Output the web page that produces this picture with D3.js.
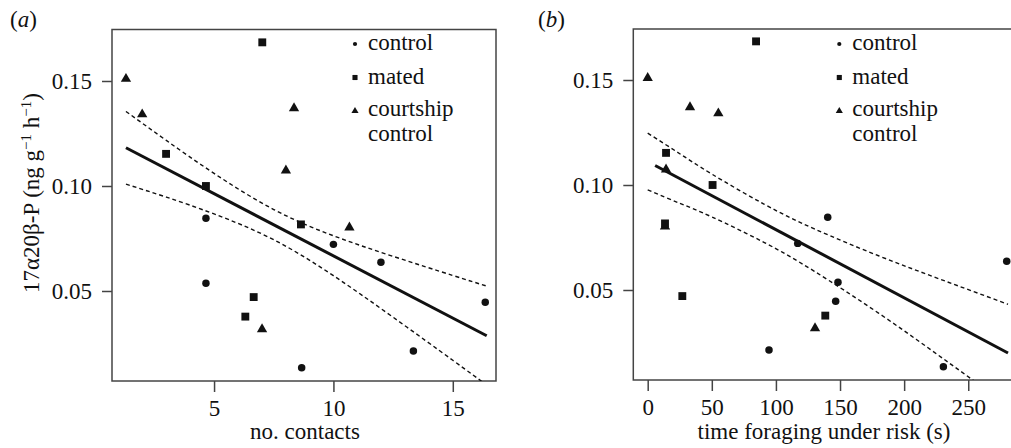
<!DOCTYPE html>
<html lang="en">
<head>
  <meta charset="UTF-8">
  <title>17a20b-P vs behaviour</title>
  <style>
    body { margin: 0; background: #fff; }
    svg text { font-family: "Liberation Serif", "Times New Roman", serif; fill: #111; }
  </style>
</head>
<body>
  <script src="https://d3js.org/d3.v7.min.js"></script>
  <script>
    // Hormone values (ng g-1 h-1) per group
    let groups = ["control", "mated", "courtship control"];

    let controlHormone = [0.0846, 0.0722, 0.0637, 0.0537, 0.0446, 0.0214, 0.0135];
    let controlContacts = [4.66, 10.0, 11.99, 4.66, 16.36, 13.35, 8.67];
    let controlTime = [140.4, 117, 280, 148.4, 146.6, 94.6, 230.6];

    let matedHormone = [0.1684, 0.1153, 0.1000, 0.0817, 0.0471, 0.0378];
    let matedContacts = [7.02, 2.99, 4.66, 8.64, 6.66, 6.31];
    let matedTime = [84.5, 14.3, 50.6, 13.5, 27, 138.5];

    let courtHormone = [0.1510, 0.1341, 0.1370, 0.1074, 0.0802, 0.0318];
    let courtContacts = [1.31, 1.99, 8.35, 8.01, 10.67, 7.01];
    let courtTime = [0, 55.1, 33, 14.3, 13.5, 130.5];

    // Regression line and 95% band
    let fitContactsX = [1.31, 16.42];
    let fitContactsY = [0.1182, 0.0287];
    let bandContactsX = [1.31, 3, 5, 7.5, 10, 12.5, 15, 16.4];
    let bandContactsUpper = [0.1355, 0.1217, 0.1060, 0.0888, 0.0763, 0.0665, 0.0574, 0.0524];
    let bandContactsLower = [0.1009, 0.0947, 0.0867, 0.0744, 0.0573, 0.0375, 0.0170, 0.0054];

    // Regression line and 95% band
    let fitTimeX = [5.8, 281];
    let fitTimeY = [0.1093, 0.0200];
    let bandTimeX = [0, 25, 50, 91, 130, 180, 230, 281];
    let bandTimeUpper = [0.1247, 0.1149, 0.1052, 0.0908, 0.0791, 0.0663, 0.0547, 0.0432];
    let bandTimeLower = [0.0977, 0.0913, 0.0848, 0.0726, 0.0589, 0.0390, 0.0175, -0.0050];

    let yTicks = [0.05, 0.10, 0.15];
    let contactTicks = [5, 10, 15];
    let timeTicks = [0, 50, 100, 150, 200, 250];

    let svg = d3.select("body")
      .append("svg")
      .attr("width", 1011)
      .attr("height", 448);

    let fontSize = 23;
    let ink = "#111";
    let frameColor = "#444";

    // marker shapes for each group (plot size, legend size)
    let shapes = [
      { type: d3.symbolCircle, size: 44, legendSize: 14 },
      { type: d3.symbolSquare, size: 62, legendSize: 26 },
      { type: d3.symbolTriangle, size: 46, legendSize: 22 }
    ];

    function drawPanel(p) {
      let g = svg.append("g");
      let x = d3.scaleLinear().domain(p.xDomain).range([p.left, p.right]);
      let y = d3.scaleLinear().domain(p.yDomain).range([p.bottom, p.top]);

      let clipId = "clip-" + p.id;
      svg.append("clipPath").attr("id", clipId)
        .append("rect")
        .attr("x", p.left).attr("y", p.top)
        .attr("width", p.right - p.left).attr("height", p.bottom - p.top);

      // y axis
      let yAxis = g.append("g")
        .attr("transform", `translate(${p.left},0)`)
        .call(d3.axisLeft(y).tickValues(yTicks).tickFormat(d3.format(".2f")).tickSize(10).tickPadding(10));
      // x axis
      let xAxis = g.append("g")
        .attr("transform", `translate(0,${p.bottom})`)
        .call(d3.axisBottom(x).tickValues(p.xTicks).tickFormat(d3.format("d")).tickSize(11).tickPadding(8));

      [yAxis, xAxis].forEach(ax => {
        ax.select(".domain").remove();
        ax.selectAll("line").attr("stroke", frameColor).attr("stroke-width", 1.5);
        ax.selectAll("text")
          .attr("fill", ink)
          .style("font-size", fontSize + "px")
          .style("font-family", "'Liberation Serif', serif");
      });

      // frame
      g.append("rect")
        .attr("x", p.left).attr("y", p.top)
        .attr("width", p.right - p.left).attr("height", p.bottom - p.top)
        .attr("fill", "none")
        .attr("stroke", frameColor)
        .attr("stroke-width", 1.5);

      let lines = g.append("g").attr("clip-path", `url(#${clipId})`);

      let curve = d3.line()
        .x(d => x(d[0]))
        .y(d => y(d[1]))
        .curve(d3.curveNatural);

      [p.bandUpper, p.bandLower].forEach(band => {
        lines.append("path")
          .datum(p.bandX.map((v, i) => [v, band[i]]))
          .attr("d", curve)
          .attr("fill", "none")
          .attr("stroke", ink)
          .attr("stroke-width", 1.4)
          .attr("stroke-dasharray", "4,3");
      });

      lines.append("path")
        .datum(p.fitX.map((v, i) => [v, p.fitY[i]]))
        .attr("d", d3.line().x(d => x(d[0])).y(d => y(d[1])))
        .attr("fill", "none")
        .attr("stroke", ink)
        .attr("stroke-width", 3);

      // points: circles, triangles, then squares on top
      [0, 2, 1].forEach(k => {
        let pts = p.series[k].x.map((v, i) => [v, p.series[k].y[i]]);
        g.selectAll(".pt-" + k)
          .data(pts)
          .enter()
          .append("path")
          .attr("class", "pt-" + k)
          .attr("d", d3.symbol().type(shapes[k].type).size(shapes[k].size))
          .attr("transform", d => `translate(${x(d[0])},${y(d[1])})`)
          .attr("fill", "#111");
      });

      // legend
      let legendRows = [44, 77.5, 111];
      let legend = g.append("g");
      groups.forEach((name, k) => {
        legend.append("path")
          .attr("d", d3.symbol().type(shapes[k].type).size(shapes[k].legendSize))
          .attr("transform", `translate(${p.legendX},${legendRows[k]})`)
          .attr("fill", "#111");
        // the long name wraps onto a second line
        let words = name === "courtship control" ? ["courtship", "control"] : [name];
        words.forEach((w, j) => {
          legend.append("text")
            .attr("x", p.legendX + 13)
            .attr("y", legendRows[k] + 6 - (words.length - 1) * 1.5 + j * 25.6)
            .style("font-size", fontSize + "px")
            .text(w);
        });
      });

      // x axis title
      g.append("text")
        .attr("x", p.titleX)
        .attr("y", 439)
        .attr("text-anchor", "middle")
        .style("font-size", fontSize + "px")
        .text(p.xTitle);

      // panel letter
      let letter = g.append("text")
        .attr("x", p.letterX)
        .attr("y", 27)
        .style("font-size", fontSize + "px");
      letter.append("tspan").text("(");
      letter.append("tspan").style("font-style", "italic").text(p.letter);
      letter.append("tspan").text(")");
    }

    drawPanel({
      id: "a", letter: "a", letterX: 10,
      left: 112, right: 496, top: 29.5, bottom: 381,
      xDomain: [0.725, 16.81], yDomain: [0.00714, 0.17452],
      xTicks: contactTicks, xTitle: "no. contacts", titleX: 305,
      legendX: 355,
      series: [
        { x: controlContacts, y: controlHormone },
        { x: matedContacts, y: matedHormone },
        { x: courtContacts, y: courtHormone }
      ],
      fitX: fitContactsX, fitY: fitContactsY,
      bandX: bandContactsX, bandUpper: bandContactsUpper, bandLower: bandContactsLower
    });

    drawPanel({
      id: "b", letter: "b", letterX: 538,
      left: 633.3, right: 1013, top: 29, bottom: 380,
      xDomain: [-11.23, 284.9], yDomain: [0.00714, 0.17429],
      xTicks: timeTicks, xTitle: "time foraging under risk (s)", titleX: 824,
      legendX: 839.3,
      series: [
        { x: controlTime, y: controlHormone },
        { x: matedTime, y: matedHormone },
        { x: courtTime, y: courtHormone }
      ],
      fitX: fitTimeX, fitY: fitTimeY,
      bandX: bandTimeX, bandUpper: bandTimeUpper, bandLower: bandTimeLower
    });

    // shared y axis title, rotated
    let yTitle = svg.append("text")
      .attr("transform", "translate(39,193) rotate(-90)")
      .attr("text-anchor", "middle")
      .style("font-size", fontSize + "px");
    yTitle.append("tspan").text("17α20β-P (ng g");
    yTitle.append("tspan").attr("dy", -8).style("font-size", "15px").text("−1");
    yTitle.append("tspan").attr("dy", 8).text(" h");
    yTitle.append("tspan").attr("dy", -8).style("font-size", "15px").text("−1");
    yTitle.append("tspan").attr("dy", 8).text(")");
  </script>
</body>
</html>
